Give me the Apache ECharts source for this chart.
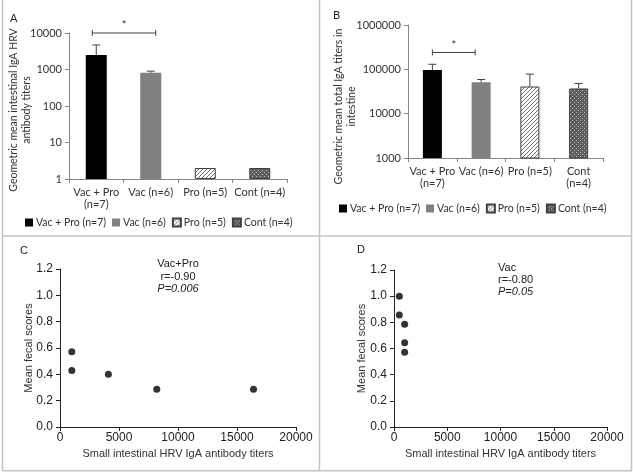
<!DOCTYPE html>
<html><head><meta charset="utf-8">
<script src="https://cdn.jsdelivr.net/npm/echarts@6/dist/echarts.min.js"></script>
<style>html,body{margin:0;padding:0;background:#fff}#c{width:633px;height:472px}</style>
</head><body><div id="c"></div>
<script>
// ---- data ----
const groups = ['Vac + Pro (n=7)', 'Vac (n=6)', 'Pro (n=5)', 'Cont (n=4)'];
const catLabelsA = ['Vac + Pro\n(n=7)', 'Vac (n=6)', 'Pro (n=5)', 'Cont (n=4)'];
const catLabelsB = ['Vac + Pro\n(n=7)', 'Vac (n=6)', 'Pro (n=5)', 'Cont\n(n=4)'];
const aMeans = [2500, 810, 2, 2];
const aErrTop = [4700, 900, null, null];
const bMeans = [96000, 51000, 41000, 37000];
const bErrTop = [130000, 59000, 78000, 48000];
const cX = [1000, 1000, 4100, 8200, 16400];
const cY = [0.571, 0.429, 0.40, 0.286, 0.286];
const dX = [500, 500, 1000, 1000, 1000];
const dY = [1.0, 0.857, 0.786, 0.643, 0.571];
const sigA = [0, 1, 10000];
const sigB = [0, 1, 240000];

// ---- patterns ----
function hatchCanvas() {
  const c = document.createElement('canvas'); c.width = c.height = 4;
  const g = c.getContext('2d');
  g.fillStyle = '#fff'; g.fillRect(0, 0, 4, 4);
  g.strokeStyle = '#6a6a6a'; g.lineWidth = 1;
  g.beginPath();
  g.moveTo(-1, 1); g.lineTo(1, -1);
  g.moveTo(0, 4); g.lineTo(4, 0);
  g.moveTo(3, 5); g.lineTo(5, 3);
  g.stroke();
  return c;
}
function dotCanvas() {
  const c = document.createElement('canvas'); c.width = c.height = 4;
  const g = c.getContext('2d');
  g.fillStyle = '#5e5e5e'; g.fillRect(0, 0, 4, 4);
  g.fillStyle = '#b8b8b8';
  g.fillRect(0, 0, 1, 1); g.fillRect(2, 2, 1, 1);
  return c;
}
const colors = ['#000000', '#808080',
  { image: hatchCanvas(), repeat: 'repeat' },
  { image: dotCanvas(), repeat: 'repeat' }];
const borders = [null, null, '#404040', '#404040'];

const topFont = 'Lato';
const sFont = 'Liberation Sans';

function barSeries(xi, yi, means, bw) {
  return groups.map((g, k) => ({
    name: g, type: 'bar', xAxisIndex: xi, yAxisIndex: yi,
    barWidth: bw, barGap: '-100%',
    data: means.map((v, i) => i === k ? v : '-'),
    itemStyle: { color: colors[k], borderColor: borders[k] || undefined, borderWidth: borders[k] ? 1 : 0 },
    silent: true
  }));
}
function errSeries(xi, yi, means, tops) {
  return {
    type: 'custom', xAxisIndex: xi, yAxisIndex: yi, silent: true, z: 5,
    encode: { x: 0, y: [1, 2] },
    data: means.map((m, i) => [i, m, tops[i]]).filter(d => d[2] != null),
    renderItem: (p, api) => {
      const lo = api.coord([api.value(0), api.value(1)]);
      const hi = api.coord([api.value(0), api.value(2)]);
      const st = { stroke: '#404040', lineWidth: 1 };
      return { type: 'group', children: [
        { type: 'line', shape: { x1: lo[0], y1: lo[1], x2: hi[0], y2: hi[1] }, style: st },
        { type: 'line', shape: { x1: hi[0] - 4, y1: hi[1], x2: hi[0] + 4, y2: hi[1] }, style: st }
      ] };
    }
  };
}
function sigSeries(xi, yi, d, padL, padR) {
  return {
    type: 'custom', xAxisIndex: xi, yAxisIndex: yi, silent: true, z: 6,
    encode: { x: [0, 1], y: 2 },
    data: [d],
    renderItem: (p, api) => {
      const a = api.coord([api.value(0), api.value(2)]);
      const b = api.coord([api.value(1), api.value(2)]);
      const x1 = a[0] - padL, x2 = b[0] + padR, y = a[1];
      const st = { stroke: '#404040', lineWidth: 1 };
      return { type: 'group', children: [
        { type: 'line', shape: { x1, y1: y, x2, y2: y }, style: st },
        { type: 'line', shape: { x1, y1: y - 3, x2: x1, y2: y + 3 }, style: st },
        { type: 'line', shape: { x1: x2, y1: y - 3, x2: x2, y2: y + 3 }, style: st },
        { type: 'text', style: { text: '*', x: (x1 + x2) / 2, y: y - 2, align: 'center', verticalAlign: 'bottom', font: '11px ' + topFont, fill: '#333' } }
      ] };
    }
  };
}

const axisGray = { lineStyle: { color: '#868686', width: 1 } };
function catAxis(gi, labels) {
  return {
    type: 'category', gridIndex: gi, data: labels,
    axisLine: axisGray, axisTick: { show: true, length: 4, lineStyle: { color: '#868686' } },
    axisLabel: { interval: 0, margin: 7, color: '#333', fontFamily: topFont, fontSize: 11, lineHeight: 12 }
  };
}
function logAxis(gi, min, max, name, gap, pad) {
  return {
    type: 'log', logBase: 10, gridIndex: gi, min, max,
    axisLine: { show: true, lineStyle: { color: '#868686' } },
    axisTick: { show: true, length: 4, lineStyle: { color: '#868686' } },
    splitLine: { show: false },
    axisLabel: { margin: 7, color: '#333', fontFamily: topFont, fontSize: 11, formatter: v => String(Math.round(v)) },
    name, nameLocation: 'middle', nameRotate: 90, nameGap: gap, nameMoveOverlap: false,
    nameTextStyle: { color: '#333', fontFamily: topFont, fontSize: 10.5, lineHeight: 13, padding: pad }
  };
}
function sValX(gi) {
  return {
    type: 'value', gridIndex: gi, min: 0, max: 20000, interval: 5000,
    axisLine: { show: true, lineStyle: { color: '#222' } },
    axisTick: { show: true, length: 4, lineStyle: { color: '#222' } },
    splitLine: { show: false },
    axisLabel: { margin: 5, color: '#222', fontFamily: sFont, fontSize: 12, formatter: v => String(v) },
    name: 'Small intestinal HRV IgA antibody titers', nameLocation: 'middle', nameGap: 21, nameMoveOverlap: false,
    nameTextStyle: { color: '#333', fontFamily: sFont, fontSize: 11 }
  };
}
function sValY(gi, gap) {
  return {
    type: 'value', gridIndex: gi, min: 0, max: 1.2, interval: 0.2,
    axisLine: { show: true, lineStyle: { color: '#222' } },
    axisTick: { show: true, length: 4, lineStyle: { color: '#222' } },
    splitLine: { show: false },
    axisLabel: { margin: 7, color: '#222', fontFamily: sFont, fontSize: 12, formatter: v => v.toFixed(1) },
    name: 'Mean fecal scores', nameLocation: 'middle', nameRotate: 90, nameGap: gap, nameMoveOverlap: false,
    nameTextStyle: { color: '#333', fontFamily: sFont, fontSize: 11 }
  };
}
function legend(left, top) {
  return {
    data: groups, left, top, orient: 'horizontal', icon: 'rect',
    itemWidth: 8, itemHeight: 8, itemGap: 6, selectedMode: false,
    textStyle: { color: '#333', fontFamily: topFont, fontSize: 10.5, padding: [0, 0, 0, -2] }
  };
}
function txt(x, y, text, opts) {
  return Object.assign({ type: 'text', x, y, style: Object.assign({ text, fill: '#222', font: '11px ' + sFont, verticalAlign: 'middle' }, opts || {}) });
}
const line = (x1, y1, x2, y2) => ({ type: 'line', shape: { x1, y1, x2, y2 }, style: { stroke: '#c4c4c4', lineWidth: 1.5 }, silent: true });

const option = {
  animation: false,
  grid: [
    { left: 69, top: 33, width: 218, height: 146, outerBoundsMode: 'none' },
    { left: 408, top: 25, width: 195, height: 133, outerBoundsMode: 'none' },
    { left: 60, top: 269, width: 236, height: 158, outerBoundsMode: 'none' },
    { left: 394, top: 270, width: 213, height: 157, outerBoundsMode: 'none' }
  ],
  xAxis: [catAxis(0, catLabelsA), catAxis(1, catLabelsB), sValX(2), sValX(3)],
  yAxis: [
    logAxis(0, 1, 10000, 'Geometric mean intestinal IgA HRV\nantibody titers', 36, [0, 8, 0, 0]),
    logAxis(1, 1000, 1000000, 'Geometric mean total IgA titers in\nintestine', 50, [0, 30, 0, 0]),
    sValY(2, 26), sValY(3, 27)
  ],
  legend: [legend(20, 212), legend(334, 198)],
  series: [
    ...barSeries(0, 0, aMeans, 21),
    ...barSeries(1, 1, bMeans, 19),
    errSeries(0, 0, aMeans, aErrTop),
    errSeries(1, 1, bMeans, bErrTop),
    sigSeries(0, 0, sigA, 4, 5),
    sigSeries(1, 1, sigB, 0, -6),
    { type: 'scatter', xAxisIndex: 2, yAxisIndex: 2, symbolSize: 7, itemStyle: { color: '#000' }, data: cX.map((x, i) => [x, cY[i]]), silent: true },
    { type: 'scatter', xAxisIndex: 3, yAxisIndex: 3, symbolSize: 7, itemStyle: { color: '#000' }, data: dX.map((x, i) => [x, dY[i]]), silent: true }
  ],
  graphic: [
    line(2.5, 0, 2.5, 471), line(631.5, 0, 631.5, 471), line(2, 470.75, 632, 470.75),
    line(319.5, 0, 319.5, 471), line(2, 236, 632, 236),
    txt(10, 18, 'A', { font: '11px ' + topFont, fill: '#222' }),
    txt(333, 15, 'B', { font: '11px ' + topFont, fill: '#222' }),
    txt(20, 251, 'C'),
    txt(357, 250, 'D'),
    txt(178, 264, 'Vac+Pro', { align: 'center' }),
    txt(178, 277, 'r=-0.90', { align: 'center' }),
    txt(178, 289, 'P=0.006', { align: 'center', font: 'italic 11px ' + sFont }),
    txt(498, 268, 'Vac'),
    txt(498, 280, 'r=-0.80'),
    txt(498, 292, 'P=0.05', { font: 'italic 11px ' + sFont })
  ]
};
const chart = echarts.init(document.getElementById('c'), null, { renderer: 'canvas' });
chart.setOption(option);
</script>
</body></html>
